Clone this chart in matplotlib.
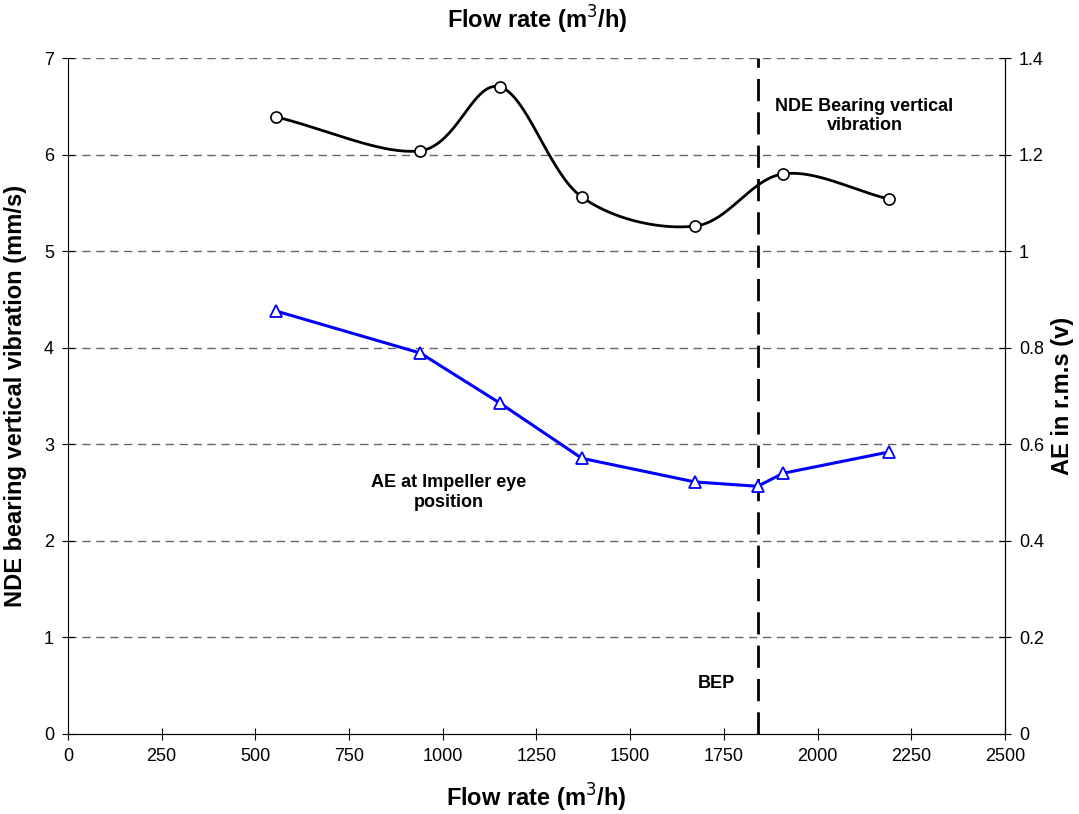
import numpy as np
import matplotlib
matplotlib.use('Agg')
import matplotlib.pyplot as plt
from matplotlib import font_manager

# data
flow = [555, 940, 1153, 1371, 1673, 1908, 2190]
nde_vib = [6.39, 6.04, 6.70, 5.56, 5.26, 5.80, 5.54]

ae_flow = [555, 940, 1153, 1371, 1673, 1840, 1908, 2190]
ae_rms = [0.876, 0.789, 0.685, 0.571, 0.522, 0.513, 0.540, 0.584]

bep = 1840

# pick a narrow arial-like font if we have it
names = {f.name for f in font_manager.fontManager.ttflist}
fam = 'Liberation Sans Narrow' if 'Liberation Sans Narrow' in names else 'Liberation Sans'
plt.rcParams['font.family'] = [fam, 'DejaVu Sans']


def smooth(x, y, n=40):
    # excel-like smoothed line (catmull-rom through the points)
    x = np.asarray(x, float)
    y = np.asarray(y, float)
    px = np.concatenate([[2 * x[0] - x[1]], x, [2 * x[-1] - x[-2]]])
    py = np.concatenate([[2 * y[0] - y[1]], y, [2 * y[-1] - y[-2]]])
    xs, ys = [], []
    t = np.linspace(0, 1, n)
    for i in range(1, len(px) - 2):
        p0, p1, p2, p3 = [np.array([px[j], py[j]]) for j in range(i - 1, i + 3)]
        pts = 0.5 * ((2 * p1)[:, None] + (-p0 + p2)[:, None] * t +
                     (2 * p0 - 5 * p1 + 4 * p2 - p3)[:, None] * t ** 2 +
                     (-p0 + 3 * p1 - 3 * p2 + p3)[:, None] * t ** 3)
        xs.extend(pts[0])
        ys.extend(pts[1])
    return xs, ys


fig = plt.figure(figsize=(10.79, 8.14), dpi=100)
ax = fig.add_axes([0.063, 0.0983, 0.8684, 0.8304])
ax2 = ax.twinx()

ax.set_xlim(0, 2500)
ax.set_ylim(0, 7)
ax2.set_ylim(0, 1.4)
ax.set_xticks(np.arange(0, 2501, 250))
ax.set_yticks(np.arange(0, 8, 1))
ax2.set_yticks(np.arange(0, 1.41, 0.2))
ax2.set_yticklabels(['0', '0.2', '0.4', '0.6', '0.8', '1', '1.2', '1.4'])

for y in range(1, 8):
    ax.axhline(y, color='#666666', lw=1, ls=(0, (6, 4)), zorder=0)

sx, sy = smooth(flow, nde_vib)
ax.plot(sx, sy, color='black', lw=2, zorder=3)
ax.plot(flow, nde_vib, 'o', ms=8, mfc='white', mec='black', mew=1.2, zorder=4)

ax2.plot(ae_flow, ae_rms, color='#0000ff', lw=2.2, marker='^', ms=8,
         mfc='white', mec='#0000ff', mew=1.3, zorder=4)

ax.axvline(bep, color='black', lw=2, ls=(0, (8, 4)), zorder=2)

for s in ['top']:
    ax.spines[s].set_visible(False)
    ax2.spines[s].set_visible(False)
ax2.spines['left'].set_visible(False)

ax.tick_params(direction='inout', length=8, labelsize=13, pad=6)
ax2.tick_params(direction='inout', length=8, labelsize=13, pad=6)

ax.set_xlabel('Flow rate (m$^3$/h)', fontsize=17, fontweight='bold', labelpad=12)
ax.set_ylabel('NDE bearing vertical vibration (mm/s)', fontsize=17, fontweight='bold', labelpad=12)
ax2.set_ylabel('AE in r.m.s (v)', fontsize=17, fontweight='bold', labelpad=5)
fig.text(0.4977, 0.975, 'Flow rate (m$^3$/h)', ha='center', va='center',
         fontsize=17, fontweight='bold')

ax.text(2125, 6.4, 'NDE Bearing vertical\nvibration', ha='center', va='center',
        fontsize=13, fontweight='bold')
ax.text(1015, 2.5, 'AE at Impeller eye\nposition', ha='center', va='center',
        fontsize=13, fontweight='bold')
ax.text(1730, 0.52, 'BEP', ha='center', va='center', fontsize=13, fontweight='bold')

fig.savefig('out.png', dpi=100)
